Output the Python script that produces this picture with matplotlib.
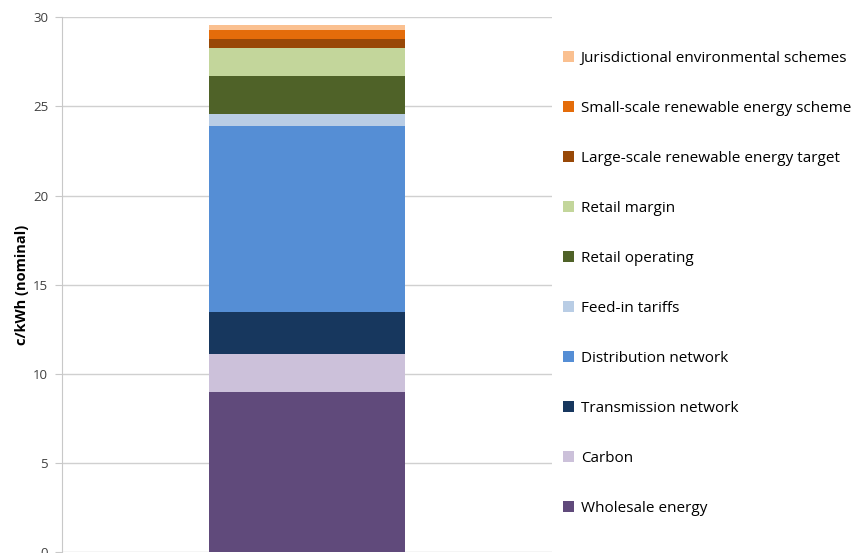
import matplotlib
matplotlib.use("Agg")
import matplotlib.pyplot as plt
import numpy as np

plt.rcParams['font.family'] = ['Open Sans', 'DejaVu Sans']

components = ['Wholesale energy', 'Carbon', 'Transmission network',
              'Distribution network', 'Feed-in tariffs', 'Retail operating',
              'Retail margin', 'Large-scale renewable energy target',
              'Small-scale renewable energy scheme',
              'Jurisdictional environmental schemes']
values = [9.0, 2.1, 2.36, 10.44, 0.7, 2.1, 1.58, 0.52, 0.47, 0.32]
colors = ['#604A7B', '#CCC1DA', '#17375E', '#558ED5', '#B9CDE5',
          '#4F6228', '#C3D69B', '#984807', '#E46C0A', '#FAC090']
yticks = [0, 5, 10, 15, 20, 25, 30]

fig = plt.figure(figsize=(8.57, 5.53), dpi=100)
ax = fig.add_axes([0.0723, 0.0018, 0.572, 0.967])

bottom = 0
handles = []
for name, v, c in zip(components, values, colors):
    b = ax.bar(0, v, bottom=bottom, width=0.4, color=c, label=name, zorder=3)
    handles.append(b)
    bottom += v

ax.set_xlim(-0.5, 0.5)
ax.set_ylim(0, 30)
ax.set_yticks(yticks)
ax.set_xticks([])
ax.grid(axis='y', color='#d0d0d0', linewidth=1, zorder=0)
for s in ['top', 'right', 'bottom']:
    ax.spines[s].set_visible(False)
ax.spines['left'].set_color('#c8c8c8')
ax.tick_params(axis='y', length=5, color='#c8c8c8', labelsize=9.5,
               labelcolor='#404040', pad=5)
ax.set_ylabel('c/kWh (nominal)', fontsize=10.5, fontweight='bold', labelpad=3)

ax.legend(handles[::-1], components[::-1], loc='upper left',
          bbox_to_anchor=(1.01, 0.948), frameon=False, fontsize=11,
          labelspacing=2.29, handlelength=0.7, handleheight=0.7,
          handletextpad=0.45, borderaxespad=0)

plt.savefig('out.png', dpi=100)
plt.close()
